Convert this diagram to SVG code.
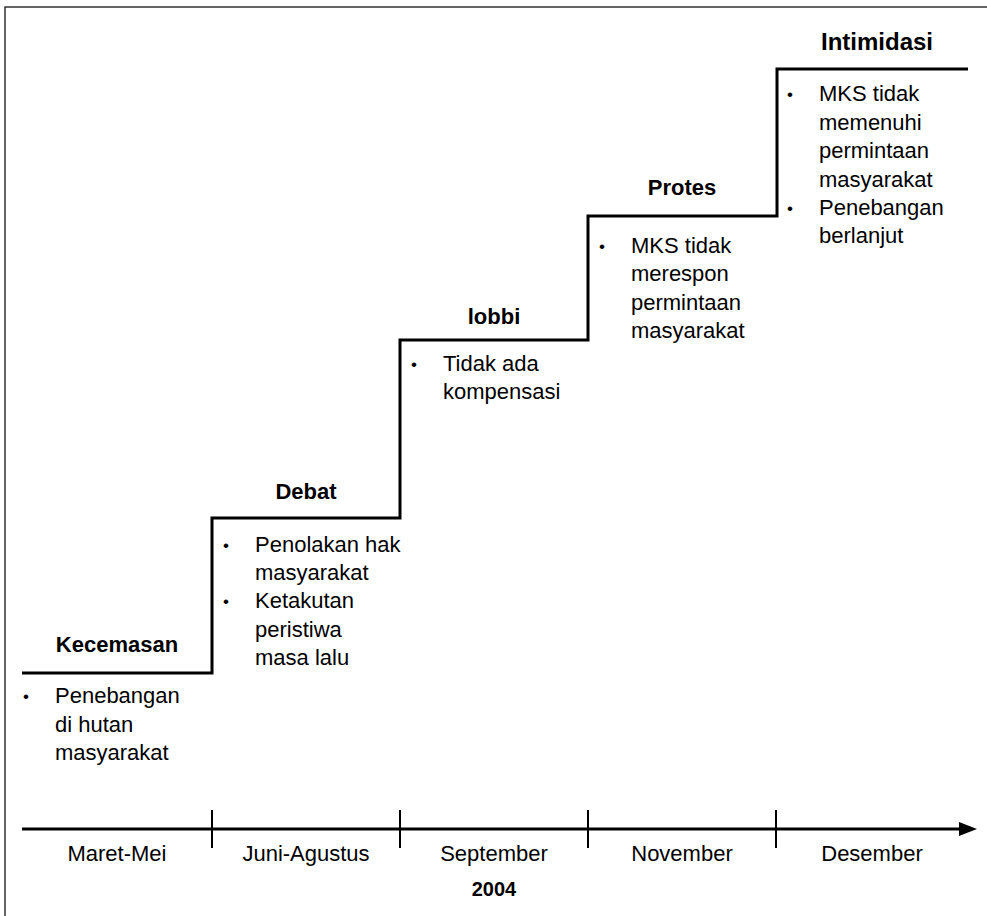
<svg xmlns="http://www.w3.org/2000/svg" width="987" height="916" viewBox="0 0 987 916">
<style>
text{font-family:"Liberation Sans",Arial,sans-serif;fill:#000;}
.h{font-size:22px;font-weight:bold;text-anchor:middle;}
.t{font-size:22px;}
.b{font-size:17px;}
.m{font-size:22px;text-anchor:middle;}
.ln{fill:none;stroke:#000;stroke-width:3;}
.tk{stroke:#000;stroke-width:2;}
</style>
<rect width="987" height="916" fill="#fff"/>
<path d="M5,916 V7 H987" fill="none" stroke="#333" stroke-width="1.5"/>
<g id="connectors">
<path class="ln" d="M22,673 H212 V518 H400 V340 H588 V216 H777 V69 H968"/>
<line class="ln" x1="22" y1="829" x2="962" y2="829"/>
<polygon points="959,822 977,829 959,836" fill="#000"/>
<line class="tk" x1="212" y1="810" x2="212" y2="848"/>
<line class="tk" x1="400" y1="810" x2="400" y2="848"/>
<line class="tk" x1="588" y1="810" x2="588" y2="848"/>
<line class="tk" x1="776" y1="810" x2="776" y2="848"/>
</g>
<g id="kecemasan">
<text class="h" x="117" y="652">Kecemasan</text>
<text class="b" x="23" y="702">•</text>
<text class="t" x="55" y="703">Penebangan</text>
<text class="t" x="55" y="732">di hutan</text>
<text class="t" x="55" y="760">masyarakat</text>
</g>
<g id="debat">
<text class="h" x="306" y="499">Debat</text>
<text class="b" x="223" y="551">•</text>
<text class="t" x="255" y="552">Penolakan hak</text>
<text class="t" x="255" y="580">masyarakat</text>
<text class="b" x="223" y="607">•</text>
<text class="t" x="255" y="608">Ketakutan</text>
<text class="t" x="255" y="637">peristiwa</text>
<text class="t" x="255" y="665">masa lalu</text>
</g>
<g id="lobbi">
<text class="h" x="494" y="324">lobbi</text>
<text class="b" x="411" y="370">•</text>
<text class="t" x="443" y="371">Tidak ada</text>
<text class="t" x="443" y="399">kompensasi</text>
</g>
<g id="protes">
<text class="h" x="682" y="195">Protes</text>
<text class="b" x="599" y="252">•</text>
<text class="t" x="631" y="253">MKS tidak</text>
<text class="t" x="631" y="281">merespon</text>
<text class="t" x="631" y="310">permintaan</text>
<text class="t" x="631" y="338">masyarakat</text>
</g>
<g id="intimidasi">
<text class="h" x="877" y="50" style="font-size:24px">Intimidasi</text>
<text class="b" x="787" y="100">•</text>
<text class="t" x="819" y="101">MKS tidak</text>
<text class="t" x="819" y="130">memenuhi</text>
<text class="t" x="819" y="158">permintaan</text>
<text class="t" x="819" y="187">masyarakat</text>
<text class="b" x="787" y="214">•</text>
<text class="t" x="819" y="215">Penebangan</text>
<text class="t" x="819" y="243">berlanjut</text>
</g>
<g id="axis-labels">
<text class="m" x="117" y="861">Maret-Mei</text>
<text class="m" x="306" y="861">Juni-Agustus</text>
<text class="m" x="494" y="861">September</text>
<text class="m" x="682" y="861">November</text>
<text class="m" x="872" y="861">Desember</text>
<text class="h" x="494" y="896" style="font-size:20px">2004</text>
</g>
</svg>
